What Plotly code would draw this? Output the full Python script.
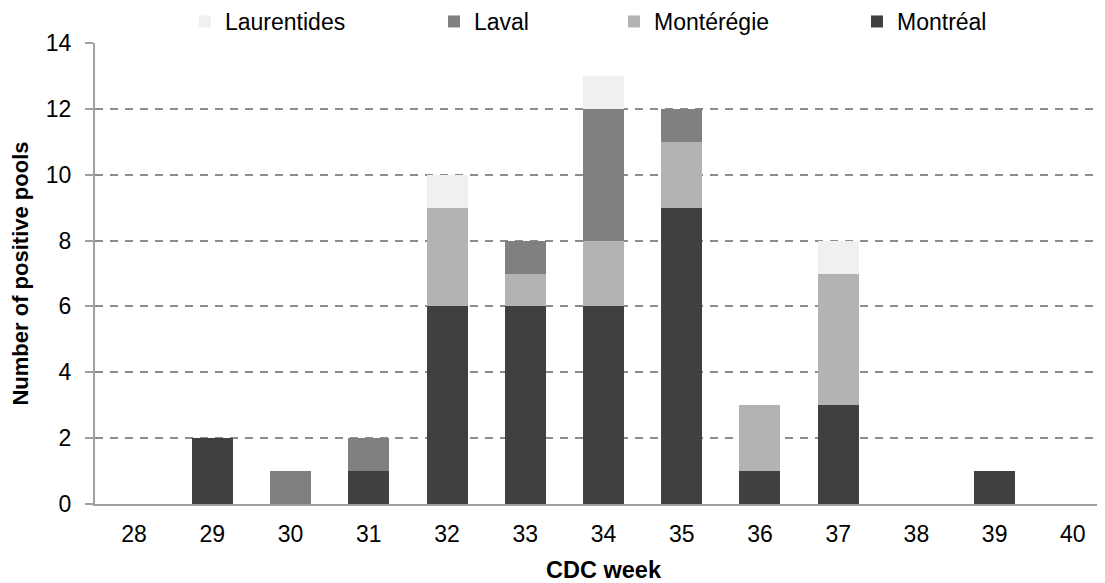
import plotly.graph_objects as go

# CDC weeks and positive pools per region
weeks = ["28", "29", "30", "31", "32", "33", "34", "35", "36", "37", "38", "39", "40"]
montreal = [0, 2, 0, 1, 6, 6, 6, 9, 1, 3, 0, 1, 0]
monteregie = [0, 0, 0, 0, 3, 1, 2, 2, 2, 4, 0, 0, 0]
laval = [0, 0, 1, 1, 0, 1, 4, 1, 0, 0, 0, 0, 0]
laurentides = [0, 0, 0, 0, 1, 0, 1, 0, 0, 1, 0, 0, 0]
y_ticks = [0, 2, 4, 6, 8, 10, 12, 14]

FONT = "Liberation Sans, Arial, Helvetica, sans-serif"
W, H = 1105, 583
# the page body adds 8px around the figure, margins allow for it
L, R, T, B = 87, 1, 35, 87

series = [
    ("Montréal", montreal, "#404040", "legend4"),
    ("Montérégie", monteregie, "#b3b3b3", "legend3"),
    ("Laval", laval, "#808080", "legend2"),
    ("Laurentides", laurentides, "#f0f0f0", "legend"),
]

fig = go.Figure()
for name, vals, col, leg in series:
    fig.add_trace(go.Bar(x=weeks, y=vals, name=name, marker_color=col,
                         marker_line_width=0, legend=leg, showlegend=True))

# one legend per entry so the spacing can follow the original
leg_common = dict(orientation="h", yref="container", yanchor="middle",
                  y=1 - 13.5 / H, xref="container", xanchor="left",
                  font=dict(family=FONT, size=23, color="black"),
                  bgcolor="rgba(0,0,0,0)", itemwidth=30)

fig.update_layout(
    width=W, height=H,
    margin=dict(l=L, r=R, t=T, b=B, autoexpand=False),
    paper_bgcolor="white", plot_bgcolor="white",
    barmode="stack", bargap=0.476, showlegend=True,
    font=dict(family=FONT, size=23, color="black"),
    legend=dict(leg_common, x=177 / W),
    legend2=dict(leg_common, x=426 / W),
    legend3=dict(leg_common, x=606 / W),
    legend4=dict(leg_common, x=849 / W),
)

fig.update_xaxes(
    type="category", range=[-0.5, 12.5],
    showline=True, linecolor="#a0a0a0", linewidth=2,
    showgrid=False, ticks="", ticklabelstandoff=8,
    tickfont=dict(family=FONT, size=23, color="black"),
    title=dict(text="<b>CDC week</b>", standoff=16,
               font=dict(family=FONT, size=23.5, color="black")),
)
fig.update_yaxes(
    range=[0, 14], tickvals=y_ticks,
    showline=True, linecolor="#a0a0a0", linewidth=2,
    ticks="outside", ticklen=8, tickwidth=2, tickcolor="#a0a0a0",
    ticklabelstandoff=9,
    showgrid=True, gridcolor="#8c8c8c", gridwidth=2, griddash="8px,7px",
    zeroline=False,
    tickfont=dict(family=FONT, size=23, color="black"),
    title=dict(text="<b>Number of positive pools</b>", standoff=16,
               font=dict(family=FONT, size=22, color="black")),
)

fig.write_html("out.html")
